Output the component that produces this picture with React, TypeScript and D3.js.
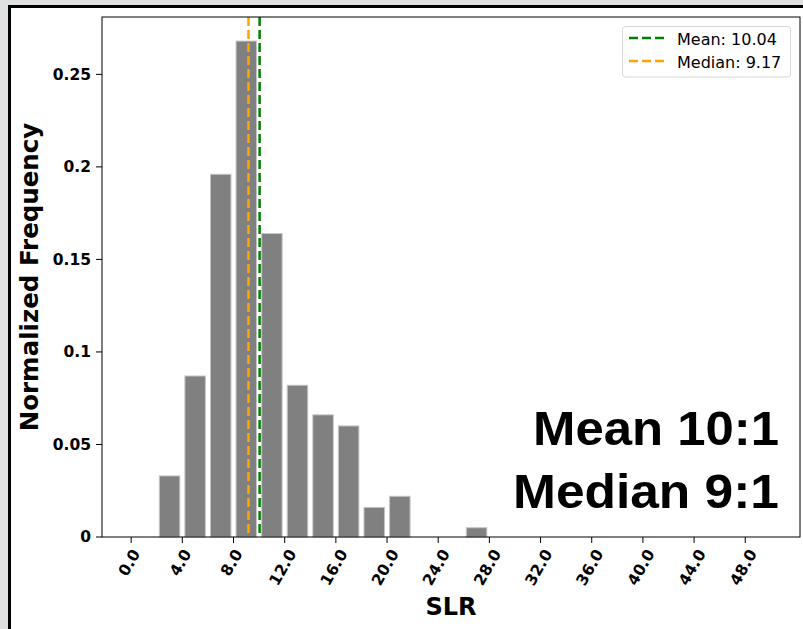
import * as d3 from 'd3'

// histogram of SLR, bins of width 2 from 0 to 50
const binEdges = d3.range(0, 52, 2)
const freqs = [
  0, 0.033, 0.087, 0.196, 0.268, 0.164, 0.082, 0.066, 0.06, 0.016, 0.022, 0, 0,
  0.005, 0, 0, 0, 0, 0, 0, 0, 0, 0, 0, 0,
]
const meanVal = 10.04
const medianVal = 9.17
const xTicks = d3.range(0, 52, 4)
const yTicks = [0, 0.05, 0.1, 0.15, 0.2, 0.25]
const legendItems = [
  { label: 'Mean: 10.04', color: 'green' },
  { label: 'Median: 9.17', color: 'orange' },
]
const bigText = ['Mean 10:1', 'Median 9:1']

const W = 803
const H = 629
const plot = { left: 102, right: 800, top: 17, bottom: 537 }
const tickFont = 15.5

// rough width of a bold DejaVu tick label
function labelLen(s: string) {
  let w = 0
  for (const c of s) w += c === '.' ? 0.38 : 0.696
  return w * tickFont
}

export default function App() {
  const rwidth = 0.8
  const x = d3
    .scaleLinear()
    .domain([-2.28, 52.28])
    .range([plot.left, plot.right])
  const y = d3
    .scaleLinear()
    .domain([0, 0.281])
    .range([plot.bottom, plot.top])

  const bars = freqs.map((f, i) => {
    const lo = binEdges[i]
    const hi = binEdges[i + 1]
    const pad = ((hi - lo) * (1 - rwidth)) / 2
    return { x0: lo + pad, x1: hi - pad, f }
  })

  return (
    <svg
      width={W}
      height={H}
      style={{ position: 'absolute', left: 0, top: 0 }}
      fontFamily="'DejaVu Sans', sans-serif"
    >
      <rect width={W} height={H} fill="#dee1e0" />
      <rect x={9.5} y={6.5} width={W + 20} height={H + 20} fill="#fff" stroke="#000" strokeWidth={3} />

      {bars
        .filter(b => b.f > 0)
        .map((b, i) => (
          <rect
            key={i}
            x={x(b.x0)}
            y={y(b.f)}
            width={x(b.x1) - x(b.x0)}
            height={y(0) - y(b.f)}
            fill="#808080"
            stroke="#c4c4c4"
            strokeWidth={1}
          />
        ))}

      <line x1={x(medianVal)} x2={x(medianVal)} y1={plot.top} y2={plot.bottom} stroke="orange" strokeWidth={2.5} strokeDasharray="9,4" />
      <line x1={x(meanVal)} x2={x(meanVal)} y1={plot.top} y2={plot.bottom} stroke="green" strokeWidth={2.5} strokeDasharray="9,4" />

      <rect
        x={plot.left}
        y={plot.top}
        width={plot.right - plot.left}
        height={plot.bottom - plot.top}
        fill="none"
        stroke="#000"
        strokeWidth={1}
      />

      {yTicks.map(t => (
        <g key={t} transform={`translate(0,${y(t)})`}>
          <line x1={plot.left - 6} x2={plot.left} stroke="#000" />
          <text x={plot.left - 11} dy="0.35em" textAnchor="end" fontSize={tickFont} fontWeight="bold">
            {d3.format('~g')(t)}
          </text>
        </g>
      ))}

      {xTicks.map(t => {
        const s = t.toFixed(1)
        const L = labelLen(s)
        const cy = plot.bottom + 11 + L * 0.433 + 2.8
        return (
          <g key={t}>
            <line x1={x(t)} x2={x(t)} y1={plot.bottom} y2={plot.bottom + 6} stroke="#000" />
            <text
              transform={`translate(${x(t) - 2},${cy}) rotate(-60)`}
              dy="0.35em"
              textAnchor="middle"
              fontSize={tickFont}
              fontWeight="bold"
            >
              {s}
            </text>
          </g>
        )
      })}

      <text x={(plot.left + plot.right) / 2} y={615} textAnchor="middle" fontSize={24} fontWeight="bold">
        SLR
      </text>
      <text
        transform={`translate(38,${(plot.top + plot.bottom) / 2}) rotate(-90)`}
        textAnchor="middle"
        fontSize={24.5}
        fontWeight="bold"
      >
        Normalized Frequency
      </text>

      <g>
        <rect x={622.5} y={26.5} width={168} height={50.5} rx={3} fill="#fff" fillOpacity={0.8} stroke="#d6d6d6" />
        {legendItems.map((it, i) => (
          <g key={it.label} transform={`translate(0,${38 + i * 23})`}>
            <line x1={629} x2={664} stroke={it.color} strokeWidth={2.5} strokeDasharray="9,4" />
            <text x={677} y={7} fontSize={16}>
              {it.label}
            </text>
          </g>
        ))}
      </g>

      {bigText.map((s, i) => (
        <text
          key={s}
          x={779}
          y={445 + i * 63}
          textAnchor="end"
          fontFamily="'Liberation Sans', Arial, sans-serif"
          fontWeight="bold"
          fontSize={49}
          textLength={i === 0 ? 246 : 266}
          lengthAdjust="spacingAndGlyphs"
        >
          {s}
        </text>
      ))}
    </svg>
  )
}
